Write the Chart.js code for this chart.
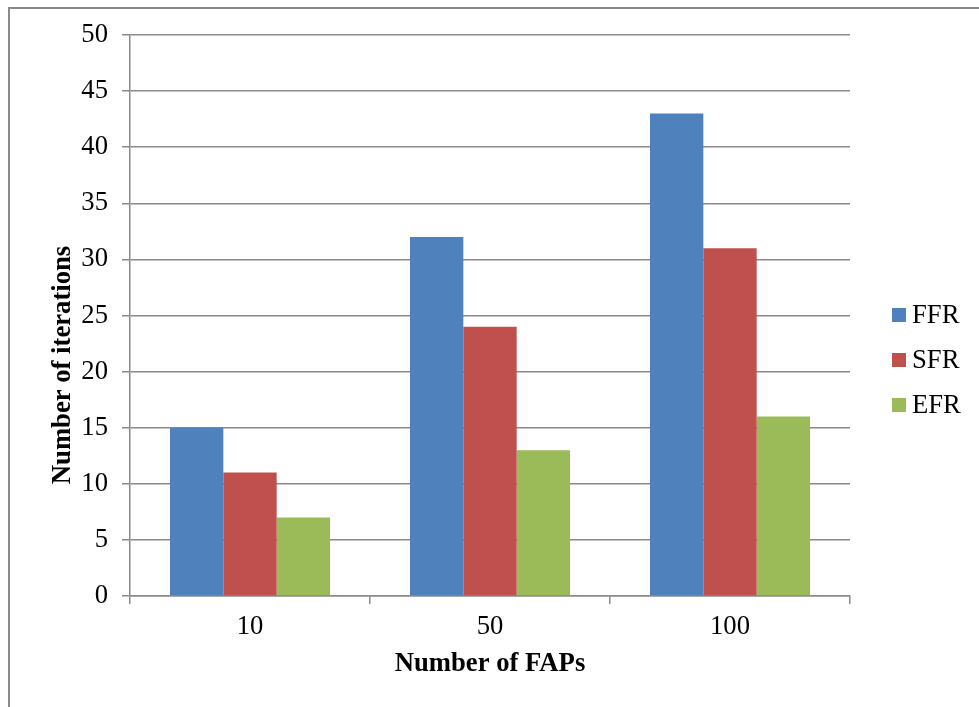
<!DOCTYPE html>
<html>
<head>
<meta charset="utf-8">
<script src="https://cdn.jsdelivr.net/npm/chart.js@4/dist/chart.umd.min.js"></script>
<style>
  html, body { margin: 0; padding: 0; background: #ffffff; }
  #wrap { position: relative; width: 979px; height: 707px; overflow: hidden; }
  #frame { position: absolute; left: 8px; top: 7px; width: 1000px; height: 800px;
           border-left: 2px solid #8a8a8a; border-top: 2px solid #8a8a8a; }
  canvas { position: absolute; left: 0; top: 0; }
</style>
</head>
<body>
<div id="wrap">
  <div id="frame"></div>
  <canvas id="chart" width="979" height="707"></canvas>
</div>
<script>
// Iterations needed per number of FAPs, for each rule
const categories = ['10', '50', '100'];
const seriesNames = ['FFR', 'SFR', 'EFR'];
const ffrValues = [15, 32, 43];
const sfrValues = [11, 24, 31];
const efrValues = [7, 13, 16];
const yTicks = [0, 5, 10, 15, 20, 25, 30, 35, 40, 45, 50];
const yTitle = 'Number of iterations';
const xTitle = 'Number of FAPs';

const colors = ['#4F81BD', '#C0504D', '#9BBB59'];
const serif = '"Liberation Serif", "Times New Roman", serif';
const gridGray = '#8a8a8a';

// Legend on the right, drawn as a column of colour squares and names
const sideLegend = {
  id: 'sideLegend',
  afterDraw(chart) {
    const ctx = chart.ctx;
    const area = chart.chartArea;
    const x0 = area.right + 42;
    const yStart = area.top + 280;
    const gap = 45;
    ctx.save();
    ctx.font = '26.67px ' + serif;
    ctx.textBaseline = 'middle';
    ctx.textAlign = 'left';
    chart.data.datasets.forEach((ds, i) => {
      const cy = yStart + i * gap;
      ctx.fillStyle = ds.backgroundColor;
      ctx.fillRect(x0, cy - 7, 14, 14);
      ctx.fillStyle = '#000000';
      ctx.fillText(ds.label, x0 + 20, cy + 1);
    });
    ctx.restore();
  }
};

// Vertical axis title, set a little below the middle of the plot
const sideTitle = {
  id: 'sideTitle',
  afterDraw(chart) {
    const ctx = chart.ctx;
    const area = chart.chartArea;
    ctx.save();
    ctx.translate(63, area.top + 330);
    ctx.rotate(-Math.PI / 2);
    ctx.font = 'bold 26.67px ' + serif;
    ctx.fillStyle = '#000000';
    ctx.textAlign = 'center';
    ctx.textBaseline = 'middle';
    ctx.fillText(yTitle, 0, 0);
    ctx.restore();
  }
};

new Chart(document.getElementById('chart'), {
  type: 'bar',
  data: {
    labels: categories,
    datasets: [
      { label: seriesNames[0], data: ffrValues, backgroundColor: colors[0] },
      { label: seriesNames[1], data: sfrValues, backgroundColor: colors[1] },
      { label: seriesNames[2], data: efrValues, backgroundColor: colors[2] }
    ]
  },
  options: {
    responsive: false,
    animation: false,
    devicePixelRatio: 1,
    layout: { padding: { top: 35, right: 129, left: 0, bottom: 0 } },
    datasets: { bar: { categoryPercentage: 160 / 240, barPercentage: 1.0, borderWidth: 0 } },
    plugins: { legend: { display: false }, tooltip: { enabled: false } },
    scales: {
      x: {
        afterFit(scale) { scale.height = 111; },
        grid: { offset: true, drawOnChartArea: false, drawTicks: true, tickLength: 8,
                color: gridGray, lineWidth: 1.5 },
        border: { display: true, color: gridGray, width: 1.5 },
        ticks: { color: '#000000', padding: 7, font: { family: serif, size: 26.67 } },
        title: { display: true, text: xTitle, color: '#000000',
                 padding: { top: 0, bottom: 27 },
                 font: { family: serif, size: 26.67, weight: 'bold' } }
      },
      y: {
        min: 0, max: 50,
        afterFit(scale) { scale.width = 130; },
        afterBuildTicks(scale) { scale.ticks = yTicks.map(v => ({ value: v })); },
        grid: { drawTicks: true, tickLength: 8, color: gridGray, lineWidth: 1.5 },
        border: { display: true, color: gridGray, width: 1.5 },
        ticks: { color: '#000000', padding: 14, font: { family: serif, size: 26.67 } },
        title: { display: false }
      }
    }
  },
  plugins: [sideLegend, sideTitle]
});
</script>
</body>
</html>
